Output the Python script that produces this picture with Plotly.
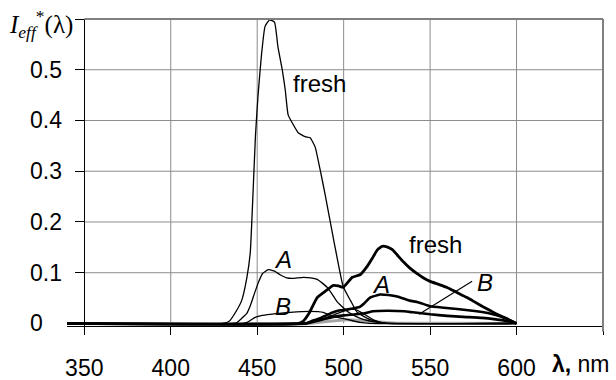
import plotly.graph_objects as go

# ---------------- data ----------------
fresh_thin_x = [340, 430, 434, 438, 441, 444, 446, 447.5, 449, 450.5, 452.5, 454.5, 457, 460, 462, 464.5, 466.2, 467.9,
                470.8, 473.7, 477.7, 480.6, 483.5, 486.4, 489.3, 494.5, 499.7, 504, 507.8, 515, 521, 525, 600]
fresh_thin_y = [0, 0, 0.005, 0.025, 0.045, 0.09, 0.14, 0.25, 0.37, 0.45, 0.53, 0.585, 0.598, 0.594, 0.545, 0.500, 0.461,
                0.411, 0.392, 0.376, 0.368, 0.366, 0.348, 0.303, 0.254, 0.16, 0.073, 0.045, 0.022, 0.008, 0.002, 0, 0]

A_thin_x = [340, 436, 438.4, 441, 444, 446, 448, 450.6, 453, 456.4, 460, 463.3, 467, 470.2, 476.6, 481, 484.7, 487.5,
            490.5, 493.5, 496.2, 502, 507, 511.3, 519.4, 525, 600]
A_thin_y = [0, 0, 0.002, 0.01, 0.02, 0.035, 0.055, 0.08, 0.098, 0.106, 0.103, 0.096, 0.09, 0.089, 0.091, 0.09, 0.087,
            0.08, 0.071, 0.057, 0.043, 0.024, 0.014, 0.008, 0.002, 0, 0]

B_thin_x = [340, 442, 444.2, 448.8, 453, 457.5, 469.1, 480.6, 488.2, 493.9, 502, 509.5, 515, 600]
B_thin_y = [0, 0, 0.002, 0.012, 0.016, 0.018, 0.022, 0.024, 0.022, 0.014, 0.008, 0.002, 0, 0]

C_thin_x = [340, 478, 485, 492, 498, 504, 508, 513, 518, 523, 600]
C_thin_y = [0, 0, 0.006, 0.014, 0.022, 0.028, 0.026, 0.016, 0.006, 0.001, 0]

fresh_thick_x = [340, 474, 476.5, 480, 484.7, 490, 494, 497, 499.7, 505, 509.5, 513.5, 516.5, 519.5, 522.3, 525, 528,
                 531, 534.4, 538, 542.5, 546, 550, 555, 559.8, 565, 571.4, 576, 580.6, 585, 588.7, 594, 600]
fresh_thick_y = [0, 0, 0.004, 0.02, 0.051, 0.065, 0.075, 0.074, 0.071, 0.091, 0.096, 0.112, 0.128, 0.145, 0.152, 0.151,
                 0.146, 0.135, 0.122, 0.11, 0.098, 0.09, 0.083, 0.077, 0.071, 0.062, 0.051, 0.042, 0.033, 0.025, 0.018,
                 0.01, 0]

A_thick_x = [340, 478, 481, 486, 490, 494, 498, 502.6, 509.5, 512, 515.3, 521, 526, 531, 538, 543, 550, 558, 567, 577,
             584, 590.5, 595, 600]
A_thick_y = [0, 0, 0.004, 0.01, 0.016, 0.022, 0.026, 0.028, 0.033, 0.04, 0.051, 0.057, 0.056, 0.053, 0.045, 0.042,
             0.034, 0.031, 0.028, 0.024, 0.02, 0.014, 0.008, 0]

B_thick_x = [340, 478, 482, 488, 494, 500, 507, 512, 517, 525, 535, 540, 550, 560, 569, 580, 588, 594, 600]
B_thick_y = [0, 0, 0.003, 0.008, 0.013, 0.016, 0.018, 0.02, 0.024, 0.025, 0.024, 0.022, 0.018, 0.015, 0.013, 0.011,
             0.008, 0.005, 0]

gray_x = [340, 480, 490, 500, 510, 520, 530, 600]
gray_y = [0, 0, 0.004, 0.007, 0.006, 0.003, 0.001, 0]

x_tickvals = [350, 400, 450, 500, 550, 600, 650]
x_ticktext = ["350", "400", "450", "500", "550", "600", ""]
y_tickvals = [0, 0.1, 0.2, 0.3, 0.4, 0.5, 0.6]
y_ticktext = ["0", "0.1", "0.2", "0.3", "0.4", "0.5"]

XMIN, XMAX = 340, 650
YMIN, YMAX = -0.005, 0.6

FONT = "Liberation Sans, Arial, sans-serif"
FS = 23

fig = go.Figure()


def add(x, y, width, color="black"):
    fig.add_trace(go.Scatter(x=x, y=y, mode="lines", line=dict(color=color, width=width, shape="spline",
                                                                smoothing=0.4), hoverinfo="skip"))


add(gray_x, gray_y, 3, "#a6a6a6")
add(C_thin_x, C_thin_y, 1.3)
add(B_thin_x, B_thin_y, 1.3)
add(A_thin_x, A_thin_y, 1.3)
add(fresh_thin_x, fresh_thin_y, 1.3)
add(B_thick_x, B_thick_y, 2.6)
add(A_thick_x, A_thick_y, 2.6)
add(fresh_thick_x, fresh_thick_y, 2.8)

shapes = []
GRID = "#8c8c8c"
for v in y_tickvals[1:-1]:
    shapes.append(dict(type="line", xref="x", yref="y", x0=350, x1=650, y0=v, y1=v,
                       line=dict(color=GRID, width=1), layer="below"))
for v in x_tickvals[1:-1]:
    shapes.append(dict(type="line", xref="x", yref="y", x0=v, x1=v, y0=0, y1=0.6,
                       line=dict(color=GRID, width=1), layer="below"))


def px(v):
    return (v - XMIN) / (XMAX - XMIN)


def py(v):
    return (v - YMIN) / (YMAX - YMIN)


# top and right border
shapes.append(dict(type="line", xref="paper", yref="paper", x0=px(350), x1=1, y0=1, y1=1,
                   line=dict(color="#808080", width=2)))
shapes.append(dict(type="line", xref="paper", yref="paper", x0=1, x1=1, y0=py(-0.016), y1=1,
                   line=dict(color="#808080", width=2)))
# leader line for label B (thick)
shapes.append(dict(type="line", xref="x", yref="y", x0=543.6, y0=0.018, x1=574.3, y1=0.083,
                   line=dict(color="black", width=1.2)))

ann = []
for v, t in zip(y_tickvals, y_ticktext):
    ann.append(dict(x=-0.072, xref="paper", y=v, yref="y", text=t, showarrow=False, xanchor="left",
                    yanchor="middle", font=dict(family=FONT, size=FS, color="black")))

labels = [("fresh", 486.1, 0.472, False), ("A", 464.7, 0.127, True), ("B", 465.0, 0.034, True),
          ("fresh", 552.9, 0.156, False), ("A", 521.4, 0.077, True), ("B", 581.8, 0.080, True)]
for t, xx, yy, it in labels:
    ann.append(dict(x=xx, y=yy, xref="x", yref="y", text=("<i>%s</i>" % t) if it else t, showarrow=False,
                    xanchor="center", yanchor="middle", font=dict(family=FONT, size=24, color="black")))

ann.append(dict(x=1.016, xref="paper", y=-0.125, yref="paper", text="<b>λ,</b> nm", showarrow=False,
                xanchor="right", yanchor="middle", font=dict(family=FONT, size=FS, color="black")))
ann.append(dict(x=-0.112, xref="paper", y=0.985, yref="paper",
                text="<i>I</i><sub><i>eff</i></sub><sup>*</sup>(λ)", showarrow=False,
                xanchor="left", yanchor="middle",
                font=dict(family="Liberation Serif, Times New Roman, serif", size=25, color="black")))

fig.update_layout(
    width=616, height=380,
    margin=dict(l=67, r=13, t=19, b=54, autoexpand=False),
    paper_bgcolor="white", plot_bgcolor="white",
    showlegend=False,
    shapes=shapes, annotations=ann,
    xaxis=dict(range=[XMIN, XMAX], showgrid=False, zeroline=False, showline=True, linecolor="black",
               linewidth=1, ticks="outside", ticklen=8, tickcolor="black", tickvals=x_tickvals,
               ticktext=x_ticktext, tickfont=dict(family=FONT, size=FS, color="black"),
               ticklabelstandoff=13, automargin=False),
    yaxis=dict(range=[YMIN, YMAX], showgrid=False, zeroline=False, showline=True, linecolor="black",
               linewidth=1, ticks="outside", ticklen=9, tickcolor="black", tickvals=y_tickvals,
               showticklabels=False, anchor="free", position=px(350), automargin=False),
)

fig.write_html("out.html", config={"displayModeBar": False},
               post_script="document.body.style.margin='0px';")
